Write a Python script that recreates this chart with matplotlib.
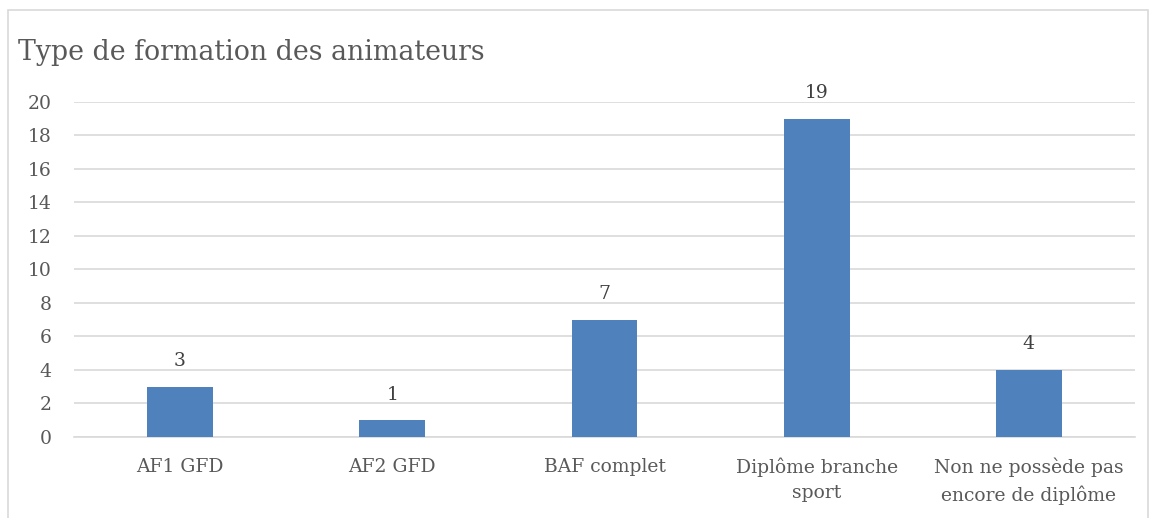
import matplotlib
matplotlib.use("Agg")
import matplotlib.pyplot as plt
from matplotlib.patches import Rectangle

categories = ["AF1 GFD", "AF2 GFD", "BAF complet", "Diplôme branche\nsport",
              "Non ne possède pas\nencore de diplôme"]
values = [3, 1, 7, 19, 4]
yticks = list(range(0, 21, 2))

txt = "#595959"
plt.rcParams['font.family'] = ['DejaVu Serif']

fig = plt.figure(figsize=(11.52, 5.18), dpi=100)
ax = fig.add_axes([0.0642, 0.1564, 0.9210, 0.6467])

# outer chart border
fig.patches.append(Rectangle((8/1152, -0.01), 1140/1152, 1 - 10/518 + 0.01,
                             transform=fig.transFigure, fill=False,
                             edgecolor="#d9d9d9", linewidth=1.2))

x = range(len(categories))
ax.bar(x, values, width=0.31, color="#4f81bd", zorder=3)
for i, v in zip(x, values):
    ax.annotate(str(v), (i, v), xytext=(0, 12), textcoords="offset points",
                ha="center", va="bottom", fontsize=13.5, color="#404040")

ax.set_ylim(0, 20)
ax.set_xlim(-0.5, len(categories) - 0.5)
ax.set_yticks(yticks)
ax.set_xticks(list(x))
ax.set_xticklabels(categories, fontsize=13.5, color=txt, linespacing=1.5)
ax.tick_params(axis="y", labelsize=13.5, labelcolor=txt, length=0, pad=16)
ax.tick_params(axis="x", length=0, pad=15)
ax.grid(axis="y", color="#d9d9d9", linewidth=1.2, zorder=0)
for s in ["top", "right", "left"]:
    ax.spines[s].set_visible(False)
ax.spines["bottom"].set_color("#d9d9d9")
ax.spines["bottom"].set_linewidth(1.2)

fig.text(18/1152, 1 - 52/518, "Type de formation des animateurs", fontsize=19.3,
         color=txt, va="center", ha="left")

fig.savefig("out.png", dpi=100)
